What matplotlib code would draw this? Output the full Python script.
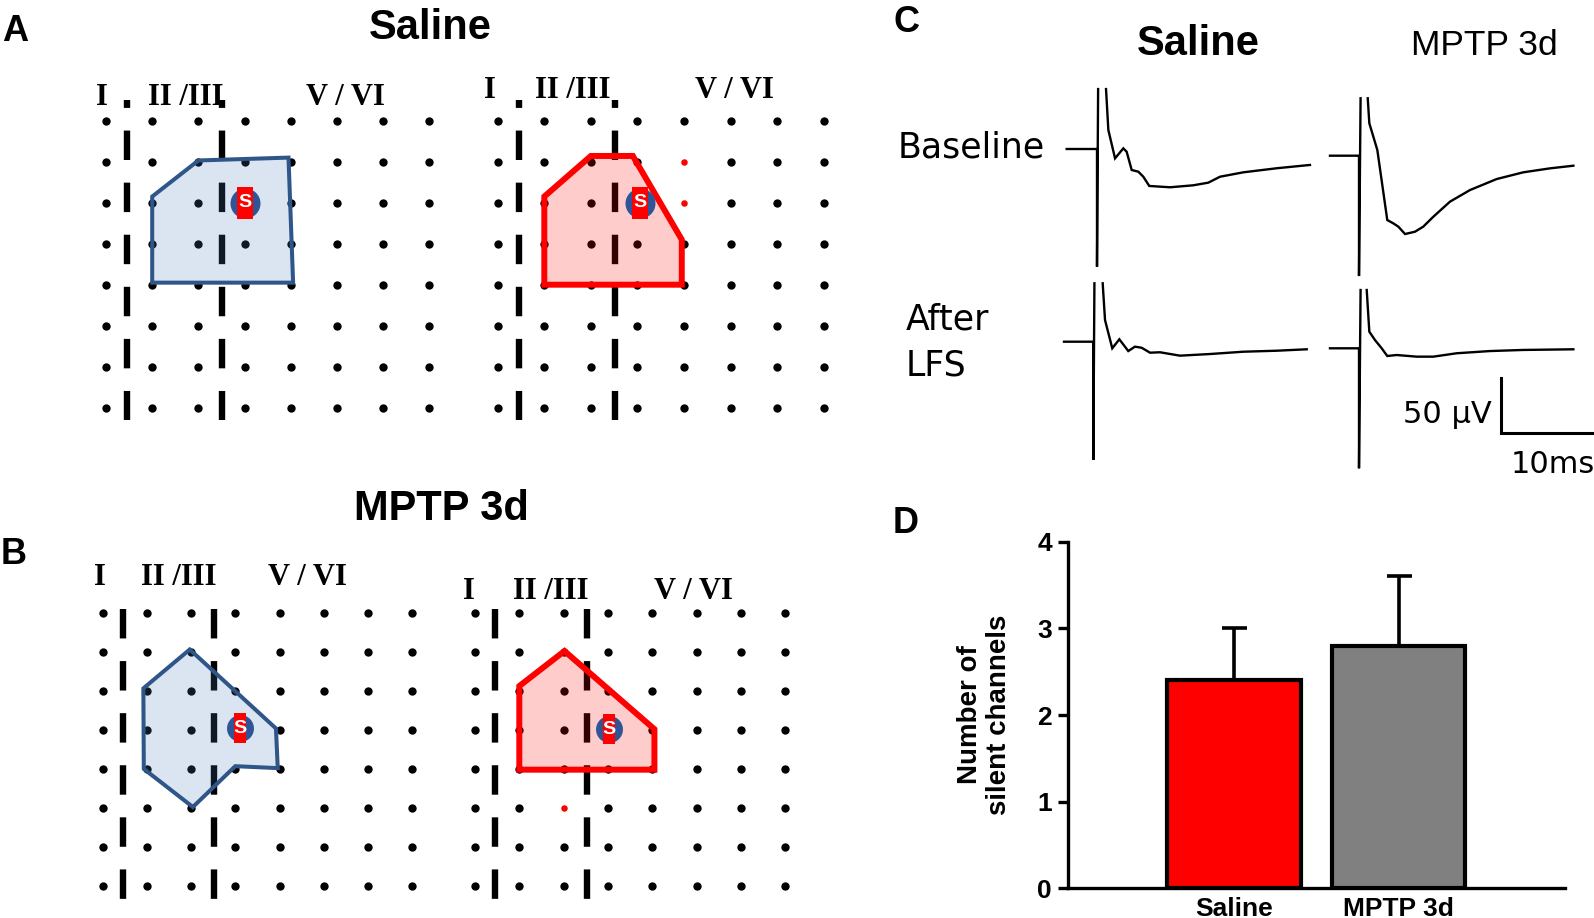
import numpy as np
import matplotlib.pyplot as plt
from matplotlib.patches import Polygon

plt.rcParams['font.family'] = ['Liberation Sans', 'DejaVu Sans']
plt.rcParams['lines.scale_dashes'] = False

W, H = 1594, 918  # figure size in pixels (dpi = 100)

# --- Data ---

# electrode array (8 x 8), positions in grid units (column, row)
n_rows = 8
n_cols = 8
layer_names = ['I', 'II /III', 'V / VI']
layer_borders = [0.46, 2.52]

# responsive areas (polygon vertices, grid units)
area_saline_base = [(1, 1.85), (2, 0.97), (3.95, 0.9), (4.05, 3.95), (1, 3.95)]
area_saline_lfs = [(1, 1.85), (2, 0.86), (2.9, 0.86), (3.95, 2.9), (3.95, 4.0), (1, 4.0)]
area_mptp_base = [(0.92, 1.93), (1.97, 0.93), (3.92, 2.96), (3.96, 3.98),
                  (3.0, 3.93), (2.04, 4.98), (0.93, 4.0)]
area_mptp_lfs = [(1, 1.87), (2.02, 0.97), (4.05, 2.98), (4.05, 4.02), (1, 4.02)]

# stimulation site of each map
stim_saline_base = (3.0, 2.0)
stim_saline_lfs = (3.05, 2.0)
stim_mptp_base = (3.1, 2.95)
stim_mptp_lfs = (3.03, 2.98)

# channels silenced after LFS (red dots)
silent_saline_lfs = [(4, 1), (4, 2)]
silent_mptp_lfs = [(2, 5)]

# fEPSP traces: time (ms) from stimulus, voltage (uV) from baseline
nan = np.nan
t_sal_base = [-3.26, -0.1, 0.0, 0.0, 0.12, nan, 0.97, 1.22, 1.94, 2.83, 3.19, 3.73, 4.44,
              4.98, 5.62, 7.85, 10.35, 11.97, 13.23, 15.73, 19.33, 22.9]
v_sal_base = [0, 0, 0, -107, 54.5, nan, 54.5, 17.3, -8.5, 0.6, -2.5, -19.1, -20.6,
              -25.2, -33.6, -34.8, -33.0, -30.6, -25.2, -21.2, -17.5, -14.5]

t_mptp_base = [-3.12, -0.1, 0.0, 0.0, 0.17, nan, 0.94, 1.11, 1.97, 3.04, 3.69, 4.23, 4.95,
               6.02, 6.91, 7.99, 9.78, 11.94, 14.81, 17.67, 20.54, 23.05]
v_mptp_base = [0, 0, 0, -109.4, 52.2, nan, 52.2, 29.5, 5.2, -58.5, -61.5, -64.5, -71.2,
               -69.1, -64.5, -55.5, -41.8, -31.2, -21.2, -15.1, -11.5, -9.1]

t_sal_lfs = [-3.15, -0.1, 0.0, 0.0, 0.12, nan, 1.01, 1.26, 2.04, 2.80, 3.76, 4.48, 5.20,
             6.10, 7.17, 9.32, 12.55, 16.13, 19.72, 22.95]
v_sal_lfs = [0, 0, 0, -107.5, 53.1, nan, 53.1, 19.7, -6.0, 2.2, -8.5, -4.5, -5.5,
             -10.0, -9.6, -12.7, -11.2, -9.1, -8.2, -6.9]

t_mptp_lfs = [-3.12, -0.1, 0.0, 0.0, 0.17, nan, 0.83, 1.11, 1.72, 2.44, 3.04, 4.05, 6.20,
              7.99, 10.51, 14.09, 17.67, 23.05]
v_mptp_lfs = [0, 0, 0, -109.1, 53.0, nan, 53.0, 15.1, 7.5, 0, -7.0, -6.1, -7.6,
              -7.6, -4.5, -2.5, -1.5, -0.9]

scalebar_uv = 50
scalebar_ms = 10

# silent channels (mean + SEM)
groups = ['Saline', 'MPTP 3d']
silent_mean = [2.4, 2.8]
silent_sem = [0.6, 0.8]
bar_colors = ['#ff0000', '#808080']
y_ticks = [0, 1, 2, 3, 4]

fig = plt.figure(figsize=(W / 100, H / 100), dpi=100)


def px_axes(left, top, width, height):
    """Axes placed with pixel coordinates (origin top-left)."""
    return fig.add_axes([left / W, 1 - (top + height) / H, width / W, height / H])


def px_text(x, y, s, **kw):
    fig.text(x / W, 1 - y / H, s, **kw)


# --- Panels A / B: electrode maps ---

BLUE_EDGE = '#2f5688'
BLUE_FILL = (0.31, 0.506, 0.741, 0.2)
RED_EDGE = '#ff0000'
RED_FILL = (1.0, 0.0, 0.0, 0.2)


def draw_map(x0, dx, y0, dy, area, stim, silent, edge, fill, lw,
             lab_y, lab_x, dash_top, dash_bot, dash_off, s_circle, s_rect, rect_ratio):
    ax = px_axes(x0 - dx, y0 - 2.5 * dy, 9.5 * dx, 11 * dy)
    ax.set_xlim(-1, 8.5)
    ax.set_ylim(8.5, -2.5)
    ax.axis('off')

    cols, rows = np.meshgrid(np.arange(n_cols), np.arange(n_rows))
    cols, rows = cols.ravel(), rows.ravel()
    is_silent = np.zeros(cols.size, bool)
    for c, r in silent:
        is_silent |= (cols == c) & (rows == r)
    ax.scatter(cols[~is_silent], rows[~is_silent], s=36, color='black', lw=0, zorder=2)
    if silent:
        sc, sr = zip(*silent)
        ax.scatter(sc, sr, s=22, color='red', lw=0, zorder=2)

    for b in layer_borders:
        ax.plot([b, b], [dash_top, dash_bot], color='black', lw=4.6,
                linestyle=(dash_off, (21.2, 16.3)), dash_capstyle='butt', zorder=2)

    for name, lx in zip(layer_names, lab_x):
        ax.text(lx, lab_y, name, ha='center', va='baseline', fontsize=22,
                fontweight='bold', family='Liberation Serif', clip_on=False)

    ax.add_patch(Polygon(area, closed=True, facecolor=fill, edgecolor=edge,
                         lw=lw, joinstyle='miter', zorder=3))

    ax.scatter([stim[0]], [stim[1]], s=s_circle ** 2, color='#2f5597', lw=0, zorder=5)
    rect = [(-rect_ratio, -1), (rect_ratio, -1), (rect_ratio, 1), (-rect_ratio, 1)]
    ax.scatter([stim[0]], [stim[1]], s=s_rect ** 2, marker=rect, color='#ff0000', lw=0, zorder=6)
    ax.text(stim[0], stim[1], 'S', color='white', fontsize=14, fontweight='bold',
            ha='center', va='center', zorder=7)


draw_map(106, 46.2, 120.7, 41.0, area_saline_base, stim_saline_base, [],
         BLUE_EDGE, BLUE_FILL, 2.9, -0.38, [-0.09, 1.73, 5.19], -0.505, 7.3, 15.5,
         21.6, 23, 0.47)
draw_map(497.7, 46.6, 120.7, 41.0, area_saline_lfs, stim_saline_lfs, silent_saline_lfs,
         RED_EDGE, RED_FILL, 4.3, -0.55, [-0.17, 1.62, 5.09], -0.505, 7.3, 15.5,
         21.6, 23, 0.47)
draw_map(102.7, 44.2, 613.3, 38.9, area_mptp_base, stim_mptp_base, [],
         BLUE_EDGE, BLUE_FILL, 2.9, -0.73, [-0.06, 1.72, 4.64], -0.11, 7.34, 0,
         19.4, 22.3, 0.39)
draw_map(475, 44.3, 613.3, 38.9, area_mptp_lfs, stim_mptp_lfs, silent_mptp_lfs,
         RED_EDGE, RED_FILL, 4.3, -0.36, [-0.13, 1.72, 4.94], -0.11, 7.34, 0,
         19.4, 22.3, 0.39)

px_text(430.5, 39, 'Saline', ha='center', va='baseline', fontsize=30, fontweight='bold')
px_text(441.5, 520, 'MPTP 3d', ha='center', va='baseline', fontsize=30, fontweight='bold')

# --- Panel C: traces ---

ms_px, uv_px = 9.3, 1.1
axC = px_axes(860, 0, 734, 480)
axC.set_xlim(0, 734 / ms_px)
axC.set_ylim(0, 480 / uv_px)
axC.axis('off')

traces = [(t_sal_base, v_sal_base, 1097, 149),
          (t_mptp_base, v_mptp_base, 1359, 155.7),
          (t_sal_lfs, v_sal_lfs, 1093.3, 341.7),
          (t_mptp_lfs, v_mptp_lfs, 1359, 348.3)]
for t, v, sx, sy in traces:
    t0 = (sx - 860) / ms_px
    v0 = (480 - sy) / uv_px
    axC.plot(np.array(t) + t0, np.array(v) + v0, color='black', lw=1.7,
             solid_joinstyle='miter')

# scale bar
bx = (1500.7 - 860) / ms_px
by = (480 - 433.3) / uv_px
axC.plot([bx, bx, bx + scalebar_ms], [by + scalebar_uv, by, by],
         color='black', lw=2.2, solid_joinstyle='miter', clip_on=False)

px_text(1198.5, 55, 'Saline', ha='center', va='baseline', fontsize=30, fontweight='bold')
px_text(1484, 55, 'MPTP 3d', ha='center', va='baseline', fontsize=25.5)
px_text(898, 158, 'Baseline', ha='left', va='baseline', fontsize=25, family='DejaVu Sans')
px_text(906, 330, 'After', ha='left', va='baseline', fontsize=25, family='DejaVu Sans')
px_text(906, 375, 'LFS', ha='left', va='baseline', fontsize=25, family='DejaVu Sans')
px_text(1492, 423, '%d \u03bcV' % scalebar_uv, ha='right', va='baseline', fontsize=22,
        family='DejaVu Sans')
px_text(1553, 473, '%dms' % scalebar_ms, ha='center', va='baseline', fontsize=22,
        family='DejaVu Sans')

# --- Panel D: bar chart ---

axD = px_axes(1068, 541.7, 497, 346.6)
x = np.arange(len(groups))
axD.bar(x, silent_mean, width=0.81, color=bar_colors, edgecolor='black', lw=3, zorder=3)
axD.errorbar(x, silent_mean, yerr=[np.zeros(len(groups)), silent_sem], fmt='none',
             ecolor='black', elinewidth=2.6, capsize=9, capthick=2.6, zorder=2)
axD.set_xlim(-1.008, 2.01)
axD.set_ylim(0, 4)
axD.set_yticks(y_ticks)
axD.set_xticks(x)
axD.set_xticklabels(groups)
axD.spines['top'].set_visible(False)
axD.spines['right'].set_visible(False)
axD.spines['left'].set_linewidth(2.4)
axD.spines['bottom'].set_linewidth(2.4)
axD.tick_params(axis='y', length=7.2, width=2.4, pad=4.5, labelsize=19)
axD.tick_params(axis='x', length=0, pad=6, labelsize=19)
for lab in axD.get_yticklabels() + axD.get_xticklabels():
    lab.set_fontweight('bold')
axD.set_ylabel('Number of\nsilent channels', fontsize=20, fontweight='bold', linespacing=1.15)
axD.yaxis.set_label_coords(-0.113, 0.5)

# panel letters
for lx, ly, letter in [(15, 41, 'A'), (14, 564, 'B'), (907, 32, 'C'), (906, 533, 'D')]:
    px_text(lx, ly, letter, ha='center', va='baseline', fontsize=26, fontweight='bold')

fig.savefig('out.png', dpi=100)
